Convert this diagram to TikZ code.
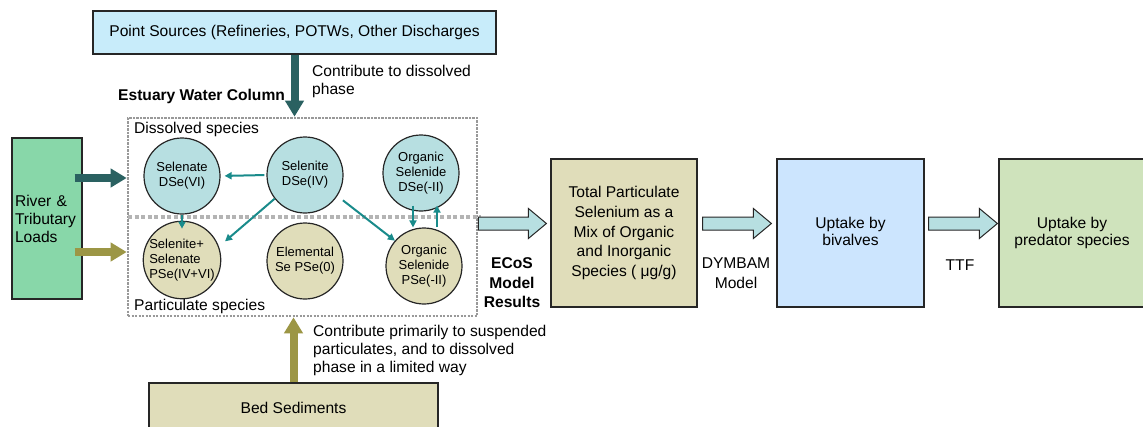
\documentclass[tikz,border=0pt]{standalone}
\usepackage{fontspec}
\setmainfont{Liberation Sans}
\usetikzlibrary{arrows.meta,calc}
\definecolor{psblue}{HTML}{C8ECFA}
\definecolor{rivergreen}{HTML}{88D7A9}
\definecolor{darkteal}{HTML}{2A6161}
\definecolor{olivearr}{HTML}{9C9645}
\definecolor{smallteal}{HTML}{198B8B}
\definecolor{dissfill}{HTML}{B7DFE1}
\definecolor{partfill}{HTML}{E0DDBA}
\definecolor{khaki}{HTML}{E0DDBA}
\definecolor{bivblue}{HTML}{CCE5FE}
\definecolor{predgreen}{HTML}{CFE3BC}
\definecolor{blockfill}{HTML}{B7DFE1}
\definecolor{dotgray}{HTML}{999999}
\definecolor{sepgray}{HTML}{B4B4B4}
\newcommand\blockarr[2]{%
  \draw[barrow] let \p1=(#1), \p2=(#2) in
    (\x1,\y1+6.5pt) -- (\x2-18pt,\y1+6.5pt) -- (\x2-18pt,\y1+15pt) -- (\x2,\y1)
    -- (\x2-18pt,\y1-15pt) -- (\x2-18pt,\y1-6.5pt) -- (\x1,\y1-6.5pt) -- cycle;}
\begin{document}
\begin{tikzpicture}[x=1pt,y=-1pt,
  box/.style={draw=black!85, line width=1.2pt, inner sep=0pt, align=center,
    font=\fontsize{15.6}{18}\selectfont},
  circ/.style={circle, draw=black!85, line width=1.2pt, minimum size=76pt,
    inner sep=0pt, align=center, font=\fontsize{13}{15}\selectfont},
  lbl/.style={inner sep=0pt, font=\fontsize{15.6}{18}\selectfont},
  bigarr/.style={line width=8pt, -{Triangle[width=18pt,length=16pt]}},
  smallarr/.style={draw=smallteal, line width=2pt, -{Triangle[width=7pt,length=7pt]}},
  barrow/.style={draw=black!85, line width=1pt, fill=blockfill}]
\useasboundingbox[fill=white] (0,0) rectangle (1143,426);

% estuary water column
\node[draw=dotgray, line width=2.6pt, dash pattern=on 2.2pt off 1.3pt,
      minimum width=349pt, minimum height=198pt] (est) at (302.5,217) {};
\coordinate (midl) at (128,217);
\coordinate (midr) at (481,217);
\draw[sepgray, line width=3.8pt, dash pattern=on 4pt off 2.5pt] (midl) -- (midr);

\node[lbl, anchor=west] (dlab) at (134,129) {Dissolved species};
\node[lbl, anchor=west] (plab) at (134,306) {Particulate species};
\node[lbl, anchor=west, font=\fontsize{15.6}{18}\selectfont\bfseries] (ewc) at (118,96) {Estuary Water Column};

% circles
\node[circ, fill=dissfill] (sD) at (182,176) {Selenate\\DSe(VI)};
\node[circ, fill=dissfill] (iD) at (305,175) {Selenite\\DSe(IV)};
\node[circ, fill=dissfill] (oD) at (421,173) {Organic\\Selenide\\DSe(-II)};
\node[circ, fill=partfill, align=left] (pSS) at (182,260) {Selenite+\\Selenate\\PSe(IV+VI)};
\node[circ, fill=partfill] (el) at (305,261) {Elemental\\Se PSe(0)};
\node[circ, fill=partfill] (oP) at (424,266) {Organic\\Selenide\\PSe(-II)};

% small arrows
\draw[smallarr, shorten <=2pt, shorten >=4pt] (iD.west) -- (sD.east);
\draw[smallarr, shorten >=-8pt] (sD.south) -- (pSS.north);
\draw[smallarr, shorten >=8pt] (iD.218) -- (pSS.20);
\draw[smallarr, shorten <=7pt] (iD.327) -- (oP.139);
\draw[smallarr, shorten <=-6pt] ([xshift=-8pt]oD.south) -- ([xshift=-8pt]oD.south |- oP.north);
\draw[smallarr, shorten >=-6pt] ([xshift=13pt]oP.north) -- ([xshift=13pt]oP.north |- oD.south);

% point sources
\node[box, fill=psblue, minimum width=403pt, minimum height=43pt] (ps) at (294.5,32.5)
  {Point Sources (Refineries, POTWs, Other Discharges};
\draw[bigarr, darkteal] (ps.south) -- (ps.south |- est.north);
\node[lbl, anchor=west, align=left] (pslab) at (312,81) {Contribute to dissolved\\phase};

% river
\node[box, fill=rivergreen, minimum width=70pt, minimum height=161pt, text width=64pt,
      align=left] (river) at (47,218.5) {River \&\\Tributary\\Loads};
\coordinate (rd) at ($(river.east)+(-8,-40.5)$);
\coordinate (rp) at ($(river.east)+(-8,33.5)$);
\draw[bigarr, darkteal] (rd) -- (rd -| est.west);
\draw[bigarr, olivearr] (rp) -- (rp -| est.west);

% bed sediments
\node[box, fill=khaki, minimum width=289pt, minimum height=49pt] (bed) at (293.5,407.5) {Bed Sediments};
\draw[bigarr, olivearr] (bed.north) -- (bed.north |- est.south);
\node[lbl, anchor=west, align=left] (bedlab) at (313,350)
  {Contribute primarily to suspended\\particulates, and to dissolved\\phase in a limited way};

% right chain
\node[box, fill=khaki, minimum width=146pt, minimum height=148pt,
      font=\fontsize{15.6}{19.8}\selectfont] (tp) at (624,233)
  {Total Particulate\\Selenium as a\\Mix of Organic\\and Inorganic\\Species ( μg/g)};
\node[box, fill=bivblue, minimum width=147pt, minimum height=148pt] (bv) at (850.5,233)
  {\raisebox{8pt}{\begin{tabular}{@{}c@{}}Uptake by\\[-1pt]bivalves\end{tabular}}};
\node[box, fill=predgreen, minimum width=146pt, minimum height=148pt] (pr) at (1072,233)
  {\raisebox{8pt}{\begin{tabular}{@{}c@{}}Uptake by\\[-1pt]predator species\end{tabular}}};

\coordinate (flow) at (0,223.5);
\blockarr{est.east |- flow}{$(tp.west |- flow)+(-4,0)$}
\blockarr{$(tp.east |- flow)+(5,0)$}{$(bv.west |- flow)+(-5,0)$}
\blockarr{$(bv.east |- flow)+(4,0)$}{$(pr.west |- flow)+(-1,0)$}

\node[lbl, align=center, font=\fontsize{15.6}{19.5}\selectfont\bfseries] (ecos) at (512,283) {ECoS\\Model\\Results};
\node[lbl, align=center, font=\fontsize{15.6}{20}\selectfont] (dym) at (736,273) {DYMBAM\\Model};
\node[lbl] (ttf) at (960,265) {TTF};
\end{tikzpicture}
\end{document}
